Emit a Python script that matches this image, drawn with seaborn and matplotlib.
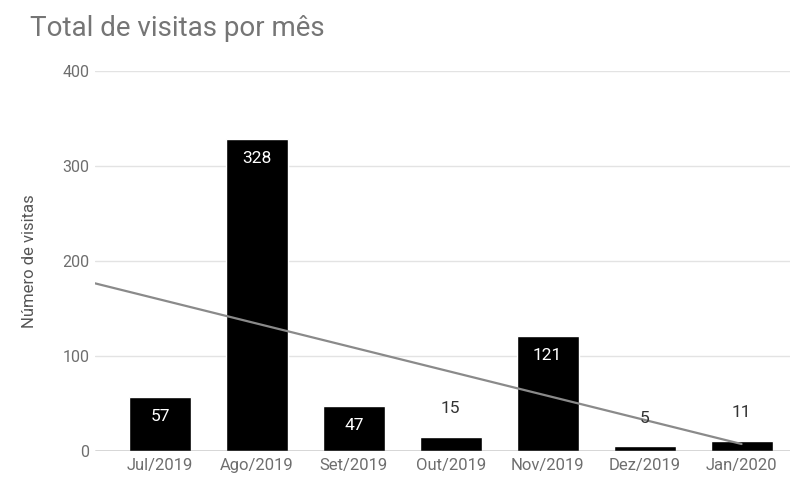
import matplotlib
matplotlib.use("Agg")
import matplotlib.pyplot as plt
import numpy as np
import pandas as pd
import seaborn as sns

months = ["Jul/2019", "Ago/2019", "Set/2019", "Out/2019", "Nov/2019", "Dez/2019", "Jan/2020"]
visits = [57, 328, 47, 15, 121, 5, 11]
y_ticks = [0, 100, 200, 300, 400]

sns.set_theme(style="white")
plt.rcParams["font.family"] = ["Roboto", "DejaVu Sans"]

df = pd.DataFrame({"mes": months, "visitas": visits})

fig = plt.figure(figsize=(7.94, 4.79), dpi=100)
ax = fig.add_axes([95 / 794, 28 / 479, 695 / 794, 380 / 479])

sns.barplot(data=df, x="mes", y="visitas", color="black", width=0.64,
            saturation=1, ax=ax, zorder=2)

xlim = (-0.67, 6.5)
ax.set_xlim(*xlim)
ax.set_ylim(0, 400)

# linear trend across the months
x = np.arange(len(visits))
slope, intercept = np.polyfit(x, visits, 1)
xs = np.array([xlim[0], x[-1]])
ax.plot(xs, intercept + slope * xs, color="#8a8a8a", lw=1.6, zorder=3)

# gridlines and baseline
ax.set_yticks(y_ticks)
for t in y_ticks[1:]:
    ax.axhline(t, color="#e3e3e3", lw=1, zorder=0)
ax.axhline(0, color="#333333", lw=1, zorder=4)

for s in ax.spines.values():
    s.set_visible(False)

# value labels
for i, v in enumerate(visits):
    if v > 40:
        ax.annotate(str(v), (i, v), xytext=(0, -14), textcoords="offset points",
                    ha="center", va="center", color="white", fontsize=12.5, zorder=5)
    else:
        ax.annotate(str(v), (i, v), xytext=(0, 20), textcoords="offset points",
                    ha="center", va="center", color="#333333", fontsize=12.5, zorder=5)

ax.tick_params(axis="both", length=0, colors="#6e6e6e", labelsize=12)
ax.tick_params(axis="y", pad=4, labelsize=11.5)
ax.tick_params(axis="x", pad=5)
ax.set_xlabel("")
ax.set_ylabel("Número de visitas", color="#555555", fontsize=12)
ax.yaxis.set_label_coords(-(95 - 37) / 695, 0.5)

fig.text(30 / 794, 1 - 28 / 479, "Total de visitas por mês", fontsize=20,
         color="#757575", ha="left", va="center")

fig.savefig("out.png", dpi=100, facecolor="white")
